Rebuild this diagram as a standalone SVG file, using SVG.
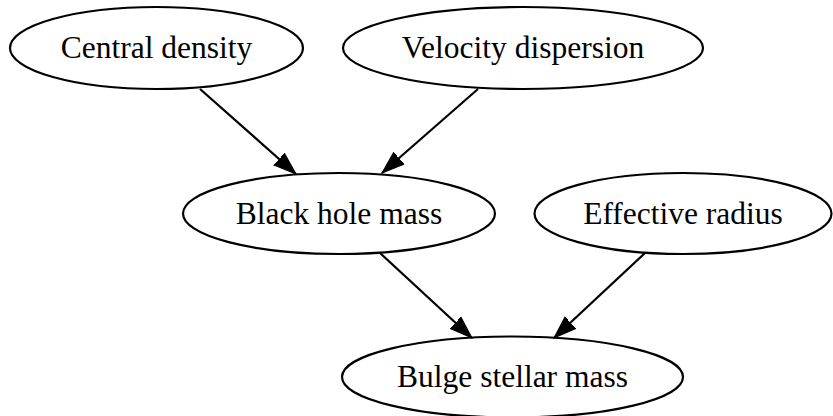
<svg xmlns="http://www.w3.org/2000/svg" width="833" height="416" viewBox="0 0 833 416">
<style>
.node ellipse{fill:none;stroke:#000;stroke-width:2.2}
.node text{font-family:"Liberation Serif","Times New Roman",serif;font-size:31.5px;text-anchor:middle;fill:#000}
.edge{stroke:#000;stroke-width:2.2;fill:none}
</style>
<defs>
<marker id="ah" markerUnits="userSpaceOnUse" markerWidth="24" markerHeight="18" viewBox="0 0 24 18" refX="22.5" refY="9" orient="auto">
<polygon points="0,1.1 22.5,9 0,16.9" fill="#000" stroke="#000" stroke-width="1"/>
</marker>
</defs>
<rect width="833" height="416" fill="#fff"/>
<g id="edges">
<path class="edge" d="M200,89 L296,174" marker-end="url(#ah)"/>
<path class="edge" d="M478,89 L382,173" marker-end="url(#ah)"/>
<path class="edge" d="M380,253 L472,338" marker-end="url(#ah)"/>
<path class="edge" d="M645,253 L554,338" marker-end="url(#ah)"/>
</g>
<g id="central_density" class="node"><ellipse cx="156.5" cy="48" rx="146.5" ry="41"/><text x="156.5" y="58">Central density</text></g>
<g id="velocity_dispersion" class="node"><ellipse cx="523" cy="48" rx="180" ry="41"/><text x="523" y="58">Velocity dispersion</text></g>
<g id="black_hole_mass" class="node"><ellipse cx="339" cy="213.5" rx="156" ry="40.5"/><text x="339" y="223.5">Black hole mass</text></g>
<g id="effective_radius" class="node"><ellipse cx="683" cy="213.5" rx="148.5" ry="40.5"/><text x="683" y="223.5">Effective radius</text></g>
<g id="bulge_stellar_mass" class="node"><ellipse cx="512.5" cy="377" rx="170.5" ry="40.5"/><text x="512.5" y="387">Bulge stellar mass</text></g>
</svg>
